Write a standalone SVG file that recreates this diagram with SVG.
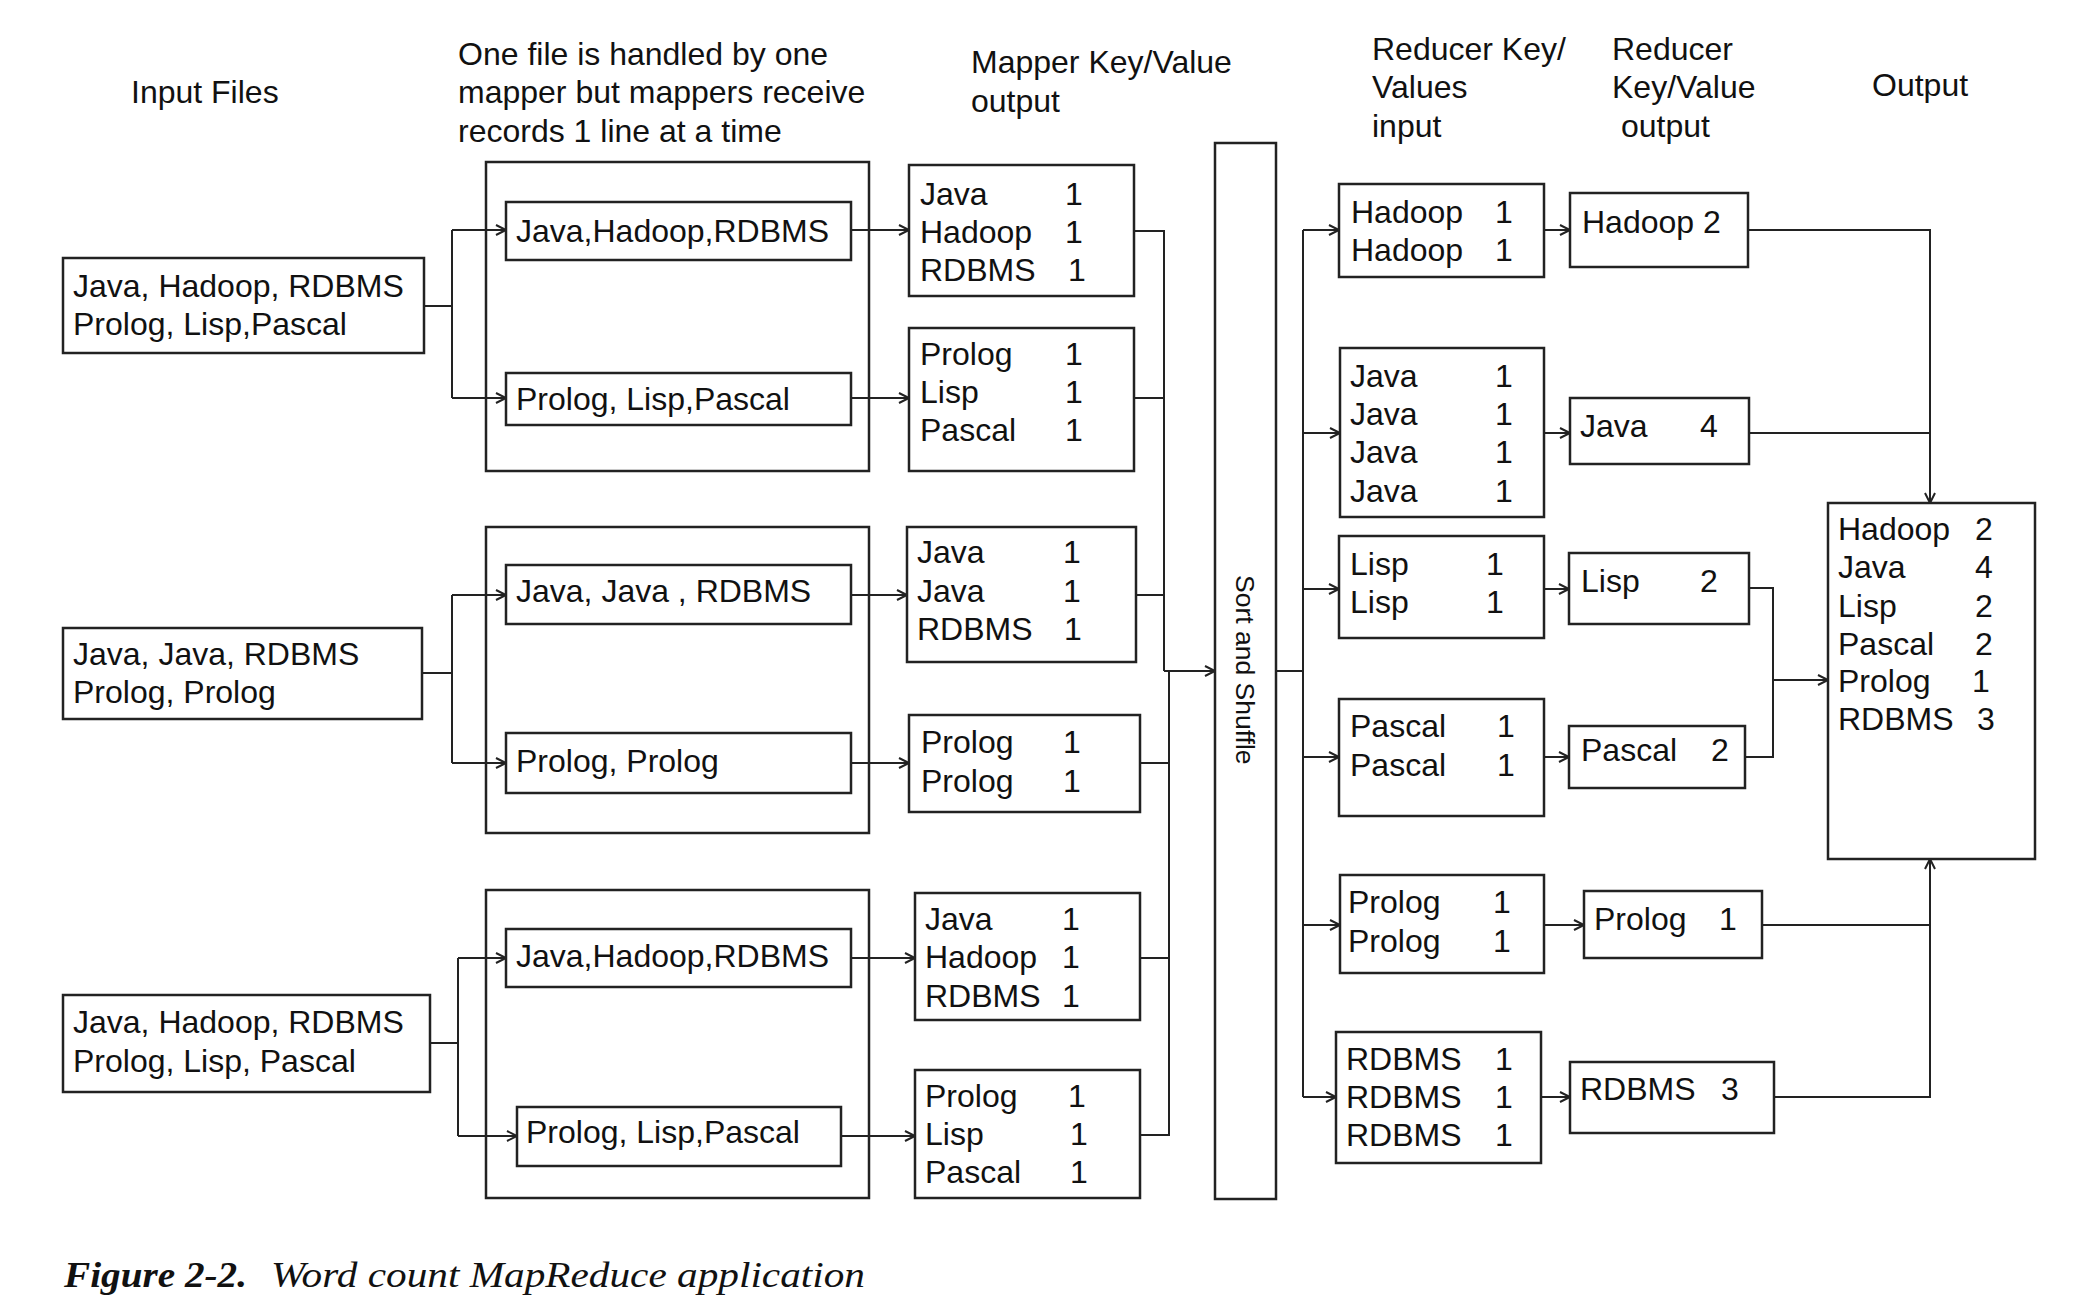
<svg xmlns="http://www.w3.org/2000/svg" width="2076" height="1304" viewBox="0 0 2076 1304">
<style>
.box{fill:#fff;stroke:#222;stroke-width:2.5}
.t{font-family:"Liberation Sans",Arial,sans-serif;font-size:32px;fill:#111}
.conn path{fill:none;stroke:#222;stroke-width:2}
.a{marker-end:url(#arr)}
.cap{font-family:"Liberation Serif","Times New Roman",serif;font-size:36px;fill:#111;font-style:italic}
</style>
<defs>
<marker id="arr" markerUnits="userSpaceOnUse" markerWidth="14" markerHeight="14" refX="11" refY="6" orient="auto">
<path d="M1,1 L11,6 L1,11" fill="none" stroke="#222" stroke-width="2"/>
</marker>
</defs>
<rect width="2076" height="1304" fill="#fff"/>

<g id="headers" class="t">
<text x="131" y="103">Input Files</text>
<text x="458"><tspan x="458" y="65">One file is handled by one</tspan><tspan x="458" y="103">mapper but mappers receive</tspan><tspan x="458" y="142">records 1 line at a time</tspan></text>
<text><tspan x="971" y="73">Mapper Key/Value</tspan><tspan x="971" y="112">output</tspan></text>
<text><tspan x="1372" y="60">Reducer Key/</tspan><tspan x="1372" y="98">Values</tspan><tspan x="1372" y="137">input</tspan></text>
<text><tspan x="1612" y="60">Reducer</tspan><tspan x="1612" y="98">Key/Value</tspan><tspan x="1621" y="137">output</tspan></text>
<text x="1872" y="96">Output</text>
</g>

<g id="mapper-containers">
<rect id="mapper1" class="box" x="486" y="162" width="383" height="309"/>
<rect id="mapper2" class="box" x="486" y="527" width="383" height="306"/>
<rect id="mapper3" class="box" x="486" y="890" width="383" height="308"/>
</g>

<g id="connectors" class="conn">
<path d="M424,306 H452 M452,230 V398"/>
<path class="a" d="M452,230 H506"/>
<path class="a" d="M452,398 H506"/>
<path d="M422,673 H452 M452,595 V763"/>
<path class="a" d="M452,595 H506"/>
<path class="a" d="M452,763 H506"/>
<path d="M430,1043 H458 M458,958 V1136"/>
<path class="a" d="M458,958 H506"/>
<path class="a" d="M458,1136 H517"/>
<path class="a" d="M851,230 H909"/>
<path class="a" d="M851,398 H909"/>
<path class="a" d="M851,595 H907"/>
<path class="a" d="M851,763 H909"/>
<path class="a" d="M851,958 H915"/>
<path class="a" d="M841,1136 H915"/>
<path d="M1134,231 H1164 V671 M1134,398 H1164 M1136,595 H1164"/>
<path d="M1140,763 H1169 M1140,958 H1169 M1140,1135 H1169 V671"/>
<path class="a" d="M1164,671 H1215"/>
<path d="M1276,671 H1303 M1303,230 V1097"/>
<path class="a" d="M1303,230 H1339"/>
<path class="a" d="M1303,433 H1340"/>
<path class="a" d="M1303,589 H1339"/>
<path class="a" d="M1303,757 H1339"/>
<path class="a" d="M1303,925 H1340"/>
<path class="a" d="M1303,1097 H1336"/>
<path class="a" d="M1544,230 H1570"/>
<path class="a" d="M1544,433 H1570"/>
<path class="a" d="M1544,589 H1569"/>
<path class="a" d="M1544,757 H1569"/>
<path class="a" d="M1544,925 H1584"/>
<path class="a" d="M1541,1097 H1570"/>
<path class="a" d="M1748,230 H1930 V503"/>
<path d="M1749,433 H1930"/>
<path d="M1749,588 H1773 V757 H1745"/>
<path class="a" d="M1773,680 H1828"/>
<path d="M1762,925 H1930"/>
<path class="a" d="M1774,1097 H1930 V859"/>
</g>

<g id="input1" class="t"><rect class="box" x="63" y="258" width="361" height="95"/><text><tspan x="73" y="297">Java, Hadoop, RDBMS</tspan><tspan x="73" y="335">Prolog, Lisp,Pascal</tspan></text></g>
<g id="input2" class="t"><rect class="box" x="63" y="628" width="359" height="91"/><text><tspan x="73" y="665">Java, Java, RDBMS</tspan><tspan x="73" y="703">Prolog, Prolog</tspan></text></g>
<g id="input3" class="t"><rect class="box" x="63" y="995" width="367" height="97"/><text><tspan x="73" y="1033">Java, Hadoop, RDBMS</tspan><tspan x="73" y="1072">Prolog, Lisp, Pascal</tspan></text></g>

<g id="line1a" class="t"><rect class="box" x="506" y="202" width="345" height="58"/><text x="516" y="242">Java,Hadoop,RDBMS</text></g>
<g id="line1b" class="t"><rect class="box" x="506" y="373" width="345" height="52"/><text x="516" y="410">Prolog, Lisp,Pascal</text></g>
<g id="line2a" class="t"><rect class="box" x="506" y="565" width="345" height="59"/><text x="516" y="602">Java, Java , RDBMS</text></g>
<g id="line2b" class="t"><rect class="box" x="506" y="733" width="345" height="60"/><text x="516" y="772">Prolog, Prolog</text></g>
<g id="line3a" class="t"><rect class="box" x="506" y="929" width="345" height="58"/><text x="516" y="967">Java,Hadoop,RDBMS</text></g>
<g id="line3b" class="t"><rect class="box" x="517" y="1107" width="324" height="59"/><text x="526" y="1143">Prolog, Lisp,Pascal</text></g>

<g id="mapout1" class="t"><rect class="box" x="909" y="165" width="225" height="131"/><text><tspan x="920" y="205">Java</tspan><tspan x="920" y="243">Hadoop</tspan><tspan x="920" y="281">RDBMS</tspan></text><text><tspan x="1065" y="205">1</tspan><tspan x="1065" y="243">1</tspan><tspan x="1068" y="281">1</tspan></text></g>
<g id="mapout2" class="t"><rect class="box" x="909" y="328" width="225" height="143"/><text><tspan x="920" y="365">Prolog</tspan><tspan x="920" y="403">Lisp</tspan><tspan x="920" y="441">Pascal</tspan></text><text><tspan x="1065" y="365">1</tspan><tspan x="1065" y="403">1</tspan><tspan x="1065" y="441">1</tspan></text></g>
<g id="mapout3" class="t"><rect class="box" x="907" y="527" width="229" height="135"/><text><tspan x="917" y="563">Java</tspan><tspan x="917" y="602">Java</tspan><tspan x="917" y="640">RDBMS</tspan></text><text><tspan x="1063" y="563">1</tspan><tspan x="1063" y="602">1</tspan><tspan x="1064" y="640">1</tspan></text></g>
<g id="mapout4" class="t"><rect class="box" x="909" y="715" width="231" height="97"/><text><tspan x="921" y="753">Prolog</tspan><tspan x="921" y="792">Prolog</tspan></text><text><tspan x="1063" y="753">1</tspan><tspan x="1063" y="792">1</tspan></text></g>
<g id="mapout5" class="t"><rect class="box" x="915" y="893" width="225" height="127"/><text><tspan x="925" y="930">Java</tspan><tspan x="925" y="968">Hadoop</tspan><tspan x="925" y="1007">RDBMS</tspan></text><text><tspan x="1062" y="930">1</tspan><tspan x="1062" y="968">1</tspan><tspan x="1062" y="1007">1</tspan></text></g>
<g id="mapout6" class="t"><rect class="box" x="915" y="1070" width="225" height="128"/><text><tspan x="925" y="1107">Prolog</tspan><tspan x="925" y="1145">Lisp</tspan><tspan x="925" y="1183">Pascal</tspan></text><text><tspan x="1068" y="1107">1</tspan><tspan x="1070" y="1145">1</tspan><tspan x="1070" y="1183">1</tspan></text></g>

<g id="sort-shuffle"><rect class="box" x="1215" y="143" width="61" height="1056"/><text class="t" style="font-size:26.5px" transform="translate(1236,575) rotate(90)">Sort and Shuffle</text></g>

<g id="redin1" class="t"><rect class="box" x="1339" y="184" width="205" height="93"/><text><tspan x="1351" y="223">Hadoop</tspan><tspan x="1351" y="261">Hadoop</tspan></text><text><tspan x="1495" y="223">1</tspan><tspan x="1495" y="261">1</tspan></text></g>
<g id="redin2" class="t"><rect class="box" x="1340" y="348" width="204" height="169"/><text><tspan x="1350" y="387">Java</tspan><tspan x="1350" y="425">Java</tspan><tspan x="1350" y="463">Java</tspan><tspan x="1350" y="502">Java</tspan></text><text><tspan x="1495" y="387">1</tspan><tspan x="1495" y="425">1</tspan><tspan x="1495" y="463">1</tspan><tspan x="1495" y="502">1</tspan></text></g>
<g id="redin3" class="t"><rect class="box" x="1339" y="536" width="205" height="102"/><text><tspan x="1350" y="575">Lisp</tspan><tspan x="1350" y="613">Lisp</tspan></text><text><tspan x="1486" y="575">1</tspan><tspan x="1486" y="613">1</tspan></text></g>
<g id="redin4" class="t"><rect class="box" x="1339" y="699" width="205" height="117"/><text><tspan x="1350" y="737">Pascal</tspan><tspan x="1350" y="776">Pascal</tspan></text><text><tspan x="1497" y="737">1</tspan><tspan x="1497" y="776">1</tspan></text></g>
<g id="redin5" class="t"><rect class="box" x="1340" y="875" width="204" height="98"/><text><tspan x="1348" y="913">Prolog</tspan><tspan x="1348" y="952">Prolog</tspan></text><text><tspan x="1493" y="913">1</tspan><tspan x="1493" y="952">1</tspan></text></g>
<g id="redin6" class="t"><rect class="box" x="1336" y="1032" width="205" height="131"/><text><tspan x="1346" y="1070">RDBMS</tspan><tspan x="1346" y="1108">RDBMS</tspan><tspan x="1346" y="1146">RDBMS</tspan></text><text><tspan x="1495" y="1070">1</tspan><tspan x="1495" y="1108">1</tspan><tspan x="1495" y="1146">1</tspan></text></g>

<g id="redout1" class="t"><rect class="box" x="1570" y="193" width="178" height="74"/><text x="1582" y="233">Hadoop 2</text></g>
<g id="redout2" class="t"><rect class="box" x="1570" y="398" width="179" height="66"/><text x="1580" y="437">Java</text><text x="1700" y="437">4</text></g>
<g id="redout3" class="t"><rect class="box" x="1569" y="553" width="180" height="71"/><text x="1581" y="592">Lisp</text><text x="1700" y="592">2</text></g>
<g id="redout4" class="t"><rect class="box" x="1569" y="726" width="176" height="62"/><text x="1581" y="761">Pascal</text><text x="1711" y="761">2</text></g>
<g id="redout5" class="t"><rect class="box" x="1584" y="891" width="178" height="67"/><text x="1594" y="930">Prolog</text><text x="1719" y="930">1</text></g>
<g id="redout6" class="t"><rect class="box" x="1570" y="1062" width="204" height="71"/><text x="1580" y="1100">RDBMS</text><text x="1721" y="1100">3</text></g>

<g id="output" class="t"><rect class="box" x="1828" y="503" width="207" height="356"/><text><tspan x="1838" y="540">Hadoop</tspan><tspan x="1838" y="578">Java</tspan><tspan x="1838" y="617">Lisp</tspan><tspan x="1838" y="655">Pascal</tspan><tspan x="1838" y="692">Prolog</tspan><tspan x="1838" y="730">RDBMS</tspan></text><text><tspan x="1975" y="540">2</tspan><tspan x="1975" y="578">4</tspan><tspan x="1975" y="617">2</tspan><tspan x="1975" y="655">2</tspan><tspan x="1972" y="692">1</tspan><tspan x="1977" y="730">3</tspan></text></g>

<g id="caption">
<text class="cap" x="64" y="1287" font-weight="bold" textLength="183" lengthAdjust="spacingAndGlyphs">Figure 2-2.</text>
<text class="cap" x="271" y="1287" textLength="594" lengthAdjust="spacingAndGlyphs">Word count MapReduce application</text>
</g>
</svg>
